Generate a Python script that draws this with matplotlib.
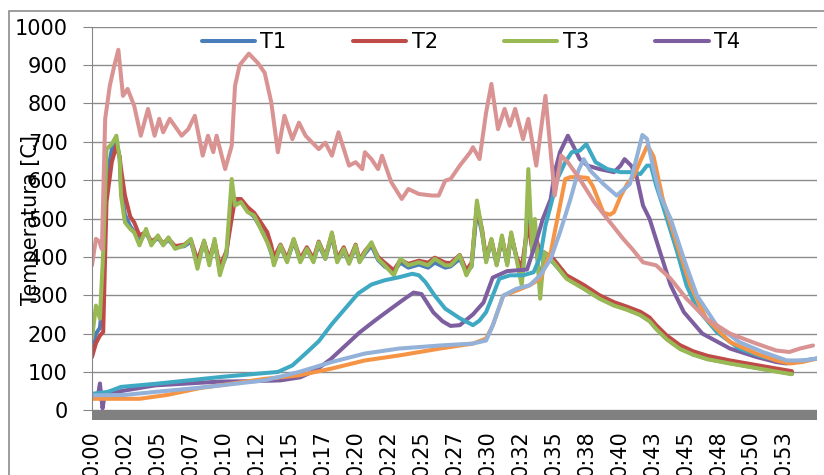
import matplotlib
matplotlib.use("Agg")
import matplotlib.pyplot as plt
from matplotlib.patches import Rectangle

# time in minutes, temperatures in C
t_grp = [0, 0.3, 0.6, 0.85, 1.1, 1.5, 1.85, 2.1, 2.2, 2.5, 2.9, 3.2, 3.6, 4.1, 4.5, 5.0, 5.4, 5.8, 6.3, 7.0,
         7.5, 8.0, 8.5, 8.9, 9.3, 9.7, 10.2, 10.6, 10.85, 11.3, 11.8, 12.3, 12.8, 13.3, 13.6, 13.8, 14.3, 14.8, 15.3, 15.8,
         16.3, 16.8, 17.2, 17.7, 18.2, 18.6, 19.1, 19.5, 20.0, 20.3, 20.7, 21.2, 21.7, 22.2, 22.9, 23.4, 24.0, 24.8, 25.5, 26.0,
         26.8, 27.2, 27.9, 28.4, 28.8, 29.2, 29.6, 29.9, 30.3, 30.7, 31.1, 31.5, 31.8, 32.2, 32.6, 32.9, 33.1, 33.4, 33.6, 34.0,
         34.3, 35.0, 36.0, 37.3, 38.5, 39.6, 40.6, 41.6, 42.3, 42.8, 43.6, 44.6, 45.6, 46.7, 48.4, 50.4, 51.9, 53.1]

T1 = [150, 200, 215, 300, 600, 680, 700, 660, 580, 510, 480, 465, 440, 465, 435, 450, 432, 445, 425, 428,
      440, 380, 438, 385, 440, 362, 405, 560, 545, 545, 520, 505, 475, 440, 410, 385, 425, 390, 440, 390,
      418, 390, 432, 395, 455, 390, 415, 385, 425, 388, 408, 430, 392, 375, 362, 385, 372, 380, 372, 385,
      372, 375, 395, 360, 375, 525, 460, 390, 440, 380, 448, 382, 455, 398, 340, 440, 560, 415, 470, 320,
      405, 385, 345, 318, 292, 275, 263, 249, 233, 213, 186, 161, 146, 134, 123, 111, 102, 95]

T2 = [139, 175, 195, 204, 543, 647, 690, 660, 630, 560, 505, 490, 456, 465, 440, 452, 435, 448, 428, 432,
      445, 390, 440, 395, 440, 375, 415, 500, 551, 551, 530, 515, 490, 464, 430, 398, 432, 395, 445, 395,
      425, 395, 440, 400, 460, 395, 425, 390, 432, 392, 415, 435, 400, 385, 365, 392, 382, 390, 385, 398,
      385, 384, 405, 365, 385, 534, 470, 395, 445, 385, 450, 388, 460, 400, 370, 445, 480, 420, 460, 410,
      412, 395, 352, 327, 300, 282, 270, 257, 242, 222, 195, 170, 154, 142, 130, 118, 109, 102]

T3 = [187, 273, 239, 412, 681, 694, 716, 655, 560, 490, 473, 464, 430, 473, 430, 456, 430, 451, 421, 430,
      447, 369, 443, 378, 447, 352, 412, 603, 534, 543, 517, 508, 473, 438, 412, 378, 430, 386, 447, 386,
      421, 386, 438, 395, 464, 386, 421, 382, 430, 386, 412, 438, 395, 378, 352, 395, 378, 386, 378, 395,
      378, 378, 404, 352, 378, 547, 464, 386, 447, 378, 456, 378, 464, 395, 326, 447, 629, 412, 499, 291,
      412, 386, 343, 317, 291, 273, 262, 248, 232, 212, 185, 160, 145, 133, 122, 110, 101, 94]

t4 = [0, 0.45, 0.6, 0.8, 0.95, 1.3, 2.2, 4.8, 7.3, 9.8, 12.3, 14.3, 15.8, 17.0, 18.1, 19.2, 20.3, 21.5, 22.6, 23.6,
      24.4, 25.0, 25.9, 26.6, 27.2, 27.9, 28.9, 29.7, 30.4, 31.5, 33.0, 33.7, 34.2, 34.8, 35.1, 35.5, 36.1, 36.5, 37.0, 37.6,
      38.5, 39.6, 40.1, 40.4, 40.9, 41.3, 41.8, 42.3, 43.1, 43.9, 44.9, 46.3, 48.4, 50.4, 51.9, 52.7]
T4 = [35, 38, 70, 5, 38, 42, 50, 65, 70, 75, 76, 78, 86, 105, 133, 168, 203, 235, 263, 288,
      307, 303, 255, 232, 220, 222, 250, 281, 346, 363, 367, 440, 499, 551, 621, 673, 716, 690, 655, 638,
      629, 621, 638, 655, 638, 612, 534, 499, 412, 326, 256, 200, 161, 139, 126, 122]

t5 = [0, 1.2, 2.2, 4.8, 7.3, 9.8, 12.4, 14.1, 15.2, 16.2, 17.2, 18.2, 19.2, 20.2, 21.2, 22.2, 23.3, 24.3, 24.8, 25.3,
      26.0, 26.8, 27.9, 28.9, 29.4, 29.9, 30.4, 30.9, 31.7, 32.7, 33.5, 34.0, 34.4, 34.8, 35.3, 35.9, 36.4, 37.0, 37.5, 38.2,
      39.1, 40.1, 41.1, 41.6, 42.1, 42.4, 42.8, 43.3, 44.4, 45.1, 45.9, 47.4, 49.1, 50.9, 52.7, 54.0, 55.0]
T5 = [43, 48, 61, 69, 78, 87, 95, 100, 117, 148, 180, 225, 265, 305, 328, 339, 347, 356, 352, 334,
      299, 265, 240, 222, 234, 256, 299, 343, 352, 352, 360, 400, 482, 534, 603, 647, 673, 677, 694, 647,
      629, 621, 621, 616, 638, 638, 586, 534, 412, 326, 265, 204, 161, 139, 126, 130, 135]

t6 = [0, 3.6, 5.7, 8.2, 10.7, 13.1, 15.7, 18.2, 20.7, 23.3, 26.4, 28.9, 29.9, 30.4, 31.2, 32.2, 33.2, 34.0, 34.8, 35.3,
      35.9, 36.3, 37.0, 37.6, 38.0, 38.8, 39.3, 39.6, 40.1, 40.6, 41.1, 41.6, 42.1, 42.3, 42.6, 43.3, 44.4, 45.4, 46.6, 48.4,
      50.4, 51.9, 52.9, 53.9, 55.0]
T6 = [30, 30, 40, 58, 70, 82, 91, 109, 130, 143, 161, 174, 187, 221, 299, 312, 326, 343, 412, 499,
      603, 608, 608, 606, 584, 515, 510, 517, 558, 590, 610, 650, 688, 681, 662, 551, 430, 326, 239, 178,
      148, 130, 122, 126, 135]

t7 = [0, 2.5, 4.8, 7.3, 9.8, 13.1, 15.7, 18.2, 20.7, 23.3, 26.4, 28.9, 29.9, 30.4, 31.2, 32.2, 33.2, 34.0, 34.8, 35.5,
      36.3, 36.9, 37.3, 37.8, 38.8, 39.8, 40.8, 41.1, 41.4, 41.75, 42.1, 42.6, 43.1, 43.9, 44.9, 45.9, 47.4, 49.1, 50.9, 52.7,
      54.0, 55.0]
T7 = [39, 40, 48, 56, 65, 78, 100, 126, 148, 161, 169, 174, 182, 221, 299, 317, 326, 352, 395, 464,
      551, 625, 655, 625, 590, 560, 590, 629, 670, 718, 708, 629, 560, 499, 395, 299, 221, 178, 152, 130,
      130, 135]

t8 = [0, 0.3, 0.55, 0.75, 1.0, 1.35, 1.7, 2.0, 2.35, 2.7, 3.2, 3.7, 4.25, 4.75, 5.1, 5.4, 5.9, 6.8, 7.3, 7.8,
      8.4, 8.8, 9.2, 9.45, 10.1, 10.6, 10.85, 11.2, 11.9, 12.6, 13.1, 13.6, 14.1, 14.6, 15.2, 15.7, 16.2, 17.2, 17.7, 18.2,
      18.7, 19.5, 20.0, 20.5, 20.7, 21.2, 21.7, 22.0, 22.7, 23.5, 24.0, 24.8, 25.8, 26.3, 26.8, 27.2, 27.9, 28.7, 28.9, 29.4,
      29.9, 30.3, 30.8, 31.3, 31.7, 32.1, 32.7, 33.1, 33.7, 34.4, 34.8, 35.1, 35.6, 36.1, 37.0, 38.1, 39.1, 40.3, 41.0, 41.8,
      42.8, 43.9, 45.1, 46.6, 48.4, 50.4, 51.9, 52.9, 53.7, 54.7]
T8 = [378, 447, 440, 420, 760, 846, 900, 940, 820, 838, 794, 716, 786, 716, 760, 725, 760, 716, 733, 768,
      664, 716, 673, 716, 629, 690, 846, 900, 930, 905, 880, 803, 673, 768, 707, 750, 716, 681, 698, 664,
      725, 638, 647, 629, 673, 655, 629, 664, 595, 551, 577, 564, 560, 560, 599, 603, 638, 673, 686, 655,
      777, 851, 733, 786, 742, 786, 707, 760, 638, 820, 673, 560, 664, 647, 603, 543, 499, 447, 420, 386,
      378, 343, 291, 239, 200, 174, 156, 152, 161, 169]

tick_labels = ["0:00", "0:02", "0:05", "0:07", "0:10", "0:12", "0:15", "0:17", "0:20", "0:22", "0:25",
               "0:27", "0:30", "0:32", "0:35", "0:38", "0:40", "0:43", "0:45", "0:48", "0:50", "0:53"]

series = [
    (t_grp, T1, "T1", "#4a7ebb"),
    (t_grp, T2, "T2", "#be4b48"),
    (t_grp, T3, "T3", "#98b954"),
    (t4, T4, "T4", "#7d5fa0"),
    (t5, T5, "T5", "#3fa9c4"),
    (t6, T6, "T6", "#f59444"),
    (t7, T7, "T7", "#93b1d9"),
    (t8, T8, "T8", "#d99392"),
]

plt.rcParams["font.family"] = ["DejaVu Sans"]

fig = plt.figure(figsize=(8.24, 4.75), dpi=100)
ax = fig.add_axes([92 / 824, 1 - 419.5 / 475, 725 / 824, (419.5 - 26.8) / 475])

lines = []
for x, y, name, col in series:
    ln, = ax.plot(x, y, color=col, lw=2.9, solid_capstyle="round", solid_joinstyle="round", label=name)
    lines.append(ln)

ax.axhspan(-24, 0, color="#808080", lw=0, zorder=3)
ax.set_ylim(-24, 1000)
ax.set_xlim(0, 55)
ax.set_yticks(range(0, 1001, 100))
ax.set_xticks([i * 2.5 for i in range(len(tick_labels))])
ax.set_xticklabels(tick_labels, rotation=90)

ax.yaxis.grid(True, color="#8c8c8c", lw=1.0)
ax.set_axisbelow(True)
for s in ["top", "right", "bottom"]:
    ax.spines[s].set_visible(False)
ax.spines["left"].set_color("#868686")
ax.spines["left"].set_bounds(0, 1000)
ax.tick_params(axis="y", labelsize=15, length=6.5, color="#868686", pad=11)
ax.tick_params(axis="x", labelsize=15, length=0, pad=7.5)

fig.text(31 / 824, 1 - 220 / 475, "Temperatura [C]", rotation=90, ha="center", va="center", fontsize=15)

ax.legend(handles=lines[:4], loc="center", bbox_to_anchor=(471 / 824, 1 - 42 / 475),
          bbox_transform=fig.transFigure, ncol=4, frameon=False, fontsize=15,
          handlelength=2.55, handletextpad=0.25, columnspacing=3.2)

fig.add_artist(Rectangle((9 / 824, -0.1), 1.2, 1.1 - 11 / 475, fill=False,
                         edgecolor="#8c8c8c", lw=1.2, transform=fig.transFigure))

fig.savefig("out.png", dpi=100)
